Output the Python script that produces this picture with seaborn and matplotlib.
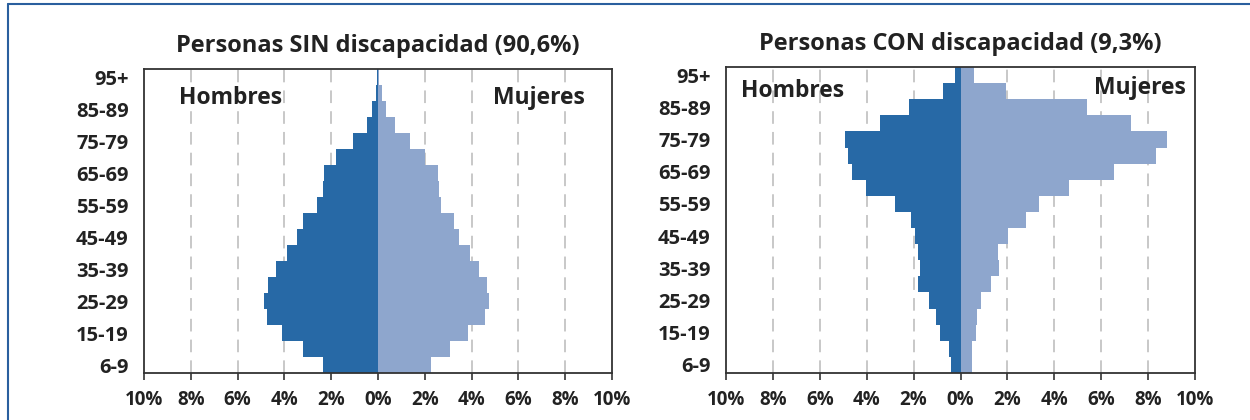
import numpy as np
import pandas as pd
import matplotlib.pyplot as plt
import matplotlib.lines as mlines
import seaborn as sns

# age groups, bottom to top
ages = ["6-9", "10-14", "15-19", "20-24", "25-29", "30-34", "35-39", "40-44",
        "45-49", "50-54", "55-59", "60-64", "65-69", "70-74", "75-79", "80-84",
        "85-89", "90-94", "95+"]

# % of population, persons without disability
sin_hombres = [2.36, 3.21, 4.12, 4.76, 4.89, 4.70, 4.34, 3.87, 3.45, 3.21,
               2.62, 2.36, 2.32, 1.79, 1.08, 0.48, 0.24, 0.09, 0.05]
sin_mujeres = [2.25, 3.08, 3.86, 4.59, 4.76, 4.64, 4.33, 3.93, 3.45, 3.26,
               2.68, 2.61, 2.55, 2.02, 1.37, 0.74, 0.33, 0.17, 0.03]

# % of population, persons with disability
con_hombres = [0.41, 0.50, 0.87, 1.06, 1.36, 1.83, 1.73, 1.80, 1.92, 2.12,
               2.79, 4.03, 4.64, 4.81, 4.92, 3.44, 2.18, 0.74, 0.22]
con_mujeres = [0.47, 0.47, 0.64, 0.69, 0.86, 1.30, 1.66, 1.59, 2.01, 2.79,
               3.33, 4.63, 6.54, 8.34, 8.81, 7.25, 5.40, 1.96, 0.58]

titles = ["Personas SIN discapacidad (90,6%)", "Personas CON discapacidad (9,3%)"]
shown_ages = ["6-9", "15-19", "25-29", "35-39", "45-49", "55-59", "65-69",
              "75-79", "85-89", "95+"]
xticks = [-10, -8, -6, -4, -2, 0, 2, 4, 6, 8, 10]

c_hombres = "#2769a6"
c_mujeres = "#8ea6cd"

sns.set_theme(style="white")
plt.rcParams['font.family'] = ['Open Sans', 'DejaVu Sans']
plt.rcParams['font.weight'] = 'bold'

fig = plt.figure(figsize=(12.5, 4.2), dpi=100)
ax1 = fig.add_axes([0.1152, 0.1119, 0.3744, 0.7238])
ax2 = fig.add_axes([0.5808, 0.1119, 0.3752, 0.7286])

order = ages[::-1]
panels = [(ax1, sin_hombres, sin_mujeres, (0.905, 0.905), (-8.5, 8.85)),
          (ax2, con_hombres, con_mujeres, (0.92, 0.93), (-9.35, 9.6))]

for i, (ax, hom, muj, ty, tx) in enumerate(panels):
    df = pd.DataFrame({"edad": ages, "hombres": -np.array(hom), "mujeres": muj})
    sns.barplot(data=df, x="hombres", y="edad", order=order, orient="h",
                color=c_hombres, width=1.0, linewidth=0, saturation=1, ax=ax)
    sns.barplot(data=df, x="mujeres", y="edad", order=order, orient="h",
                color=c_mujeres, width=1.0, linewidth=0, saturation=1, ax=ax)
    ax.set_xlim(-10, 10)
    ax.set_ylim(len(ages) - 0.5, -0.5)
    ax.set_xticks(xticks)
    ax.set_xticklabels([f"{abs(v)}%" for v in xticks], fontsize=13.5, fontweight="bold")
    ax.set_yticks([order.index(a) for a in shown_ages])
    ax.set_yticklabels(shown_ages, fontsize=14.5, fontweight="bold")
    ax.tick_params(axis="x", direction="out", length=5, width=1.2, color="#333333",
                   pad=7, bottom=True, labelcolor="#222222")
    ax.tick_params(axis="y", length=0, pad=11, labelcolor="#222222")
    ax.set_xlabel("")
    ax.set_ylabel("")
    for v in [-8, -6, -4, -2, 2, 4, 6, 8]:
        ax.axvline(v, color="#c4c4c4", lw=1.3, dashes=(7, 4.5), zorder=0)
    for s in ax.spines.values():
        s.set_color("#333333")
        s.set_linewidth(1.3)
    ax.set_title(titles[i], fontsize=17, fontweight="bold", color="#222222", pad=12)
    ax.text(tx[0], ty[0], "Hombres", transform=ax.get_xaxis_transform(),
            fontsize=16.5, fontweight="bold", color="#222222", ha="left", va="center")
    ax.text(tx[1], ty[1], "Mujeres", transform=ax.get_xaxis_transform(),
            fontsize=16.5, fontweight="bold", color="#222222", ha="right", va="center")

# blue frame on top and left edges
fig.add_artist(mlines.Line2D([0.0065, 1.0], [0.990, 0.990], transform=fig.transFigure,
                             color="#2a5f9e", lw=1.5))
fig.add_artist(mlines.Line2D([0.0065, 0.0065], [0.0, 0.990], transform=fig.transFigure,
                             color="#2a5f9e", lw=1.5))

fig.savefig("out.png", dpi=100)
